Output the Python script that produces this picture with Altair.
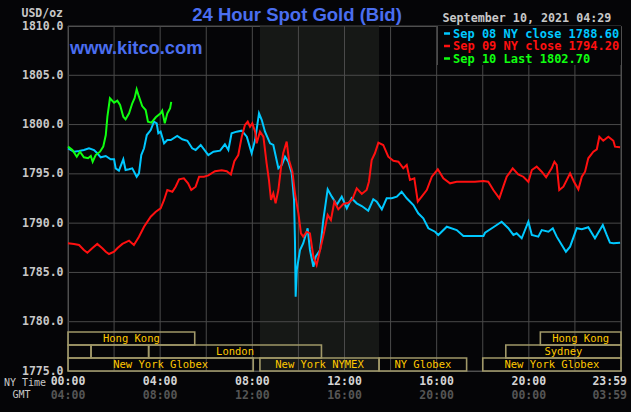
import altair as alt
import pandas as pd

# ---------------- data (hour of NY day, USD/oz) ----------------
sep08 = [(0.00,1797.59),(0.26,1797.25),(0.48,1797.32),(0.69,1797.42),(0.91,1797.59),(1.13,1797.42),
 (1.27,1797.09),(1.42,1796.68),(1.64,1796.81),(1.85,1796.48),(2.00,1796.48),(2.07,1795.56),(2.21,1795.32),
 (2.40,1796.48),(2.50,1795.39),(2.65,1795.46),(2.79,1795.56),(2.98,1794.71),(3.08,1795.06),(3.18,1796.91),
 (3.30,1797.59),(3.42,1798.94),(3.59,1799.45),(3.73,1800.29),(3.85,1800.13),(3.92,1799.11),(4.02,1799.28),
 (4.17,1798.10),(4.31,1798.43),(4.46,1798.43),(4.74,1798.84),(4.96,1798.51),(5.18,1798.36),(5.39,1797.59),
 (5.54,1797.42),(5.76,1797.93),(6.09,1796.91),(6.31,1797.25),(6.60,1797.35),(6.81,1798.00),(6.96,1797.42),
 (7.10,1799.11),(7.32,1799.28),(7.54,1799.38),(7.76,1798.77),(7.97,1797.09),(8.12,1798.43),(8.29,1801.14),
 (8.41,1800.46),(8.55,1799.28),(8.77,1798.10),(8.91,1797.93),(9.13,1795.56),(9.28,1795.90),(9.42,1796.74),
 (9.56,1796.23),(9.71,1795.06),(9.81,1792.35),(9.85,1788.29),(9.88,1782.54),(9.93,1785.25),(10.07,1787.28),
 (10.21,1787.96),(10.40,1789.48),(10.50,1787.28),(10.65,1785.58),(10.75,1786.60),(10.94,1787.28),
 (11.08,1790.32),(11.27,1793.44),(11.45,1792.69),(11.59,1792.18),(11.66,1791.84),(11.88,1792.69),
 (12.10,1791.51),(12.31,1792.52),(12.53,1792.01),(12.75,1791.74),(13.03,1791.26),(13.25,1792.42),
 (13.40,1792.18),(13.62,1791.40),(13.83,1792.52),(14.05,1792.52),(14.27,1792.69),(14.48,1793.19),
 (14.70,1792.52),(14.99,1791.84),(15.20,1791.00),(15.42,1790.49),(15.64,1789.48),(15.93,1789.13),
 (16.07,1788.80),(16.44,1789.64),(16.87,1789.30),(17.16,1788.70),(17.66,1788.70),(18.03,1788.70),
 (18.10,1789.03),(18.46,1789.58),(18.82,1790.15),(19.11,1789.48),(19.33,1788.80),(19.47,1788.97),
 (19.69,1788.46),(19.98,1790.15),(20.13,1788.80),(20.41,1788.63),(20.56,1789.30),(20.85,1789.13),
 (21.04,1789.48),(21.21,1788.63),(21.43,1787.78),(21.61,1787.10),(21.79,1787.61),(22.08,1789.48),
 (22.30,1789.38),(22.58,1789.58),(22.87,1788.46),(23.21,1789.81),(23.38,1788.80),(23.52,1788.02),
 (23.67,1787.96),(23.96,1788.02)]

sep09 = [(0.00,1787.96),(0.26,1787.89),(0.48,1787.78),(0.69,1787.28),(0.84,1787.00),(1.05,1787.45),
 (1.27,1787.89),(1.49,1787.45),(1.64,1787.10),(1.78,1786.87),(2.00,1787.10),(2.14,1787.45),(2.36,1787.89),
 (2.65,1788.22),(2.86,1787.78),(3.08,1788.62),(3.30,1789.64),(3.59,1790.65),(3.81,1791.16),(4.02,1791.50),
 (4.17,1792.35),(4.31,1793.36),(4.53,1793.19),(4.67,1793.70),(4.82,1794.45),(5.03,1794.55),(5.21,1794.04),
 (5.35,1793.36),(5.54,1793.70),(5.69,1794.71),(5.90,1794.71),(6.09,1794.84),(6.38,1795.27),(6.67,1795.37),
 (6.89,1795.27),(7.07,1794.94),(7.22,1796.29),(7.39,1796.91),(7.54,1798.77),(7.68,1799.96),(7.80,1800.29),
 (7.90,1799.78),(8.00,1800.13),(8.12,1799.28),(8.19,1798.10),(8.33,1799.28),(8.48,1798.77),(8.62,1796.07),
 (8.72,1794.38),(8.81,1792.35),(8.91,1793.03),(9.01,1792.01),(9.13,1793.36),(9.24,1795.56),(9.34,1797.09),
 (9.49,1798.27),(9.59,1796.41),(9.74,1795.23),(9.85,1793.03),(10.00,1791.00),(10.11,1788.97),
 (10.21,1788.63),(10.36,1789.13),(10.50,1788.97),(10.65,1786.60),(10.79,1785.75),(10.94,1787.28),
 (11.12,1789.13),(11.27,1790.83),(11.41,1790.32),(11.56,1792.18),(11.73,1791.40),(11.95,1791.94),
 (12.17,1792.07),(12.34,1792.42),(12.53,1793.53),(12.75,1792.96),(12.96,1793.36),(13.06,1794.20),
 (13.18,1796.40),(13.32,1797.09),(13.47,1798.16),(13.68,1797.93),(13.90,1796.74),(14.12,1796.33),
 (14.34,1796.23),(14.55,1795.56),(14.70,1795.90),(14.84,1794.38),(15.03,1794.55),(15.18,1792.18),
 (15.35,1792.69),(15.57,1793.36),(15.79,1794.71),(16.05,1795.46),(16.29,1794.55),(16.58,1794.04),
 (16.87,1794.20),(17.66,1794.20),(18.03,1794.27),(18.24,1794.20),(18.46,1793.36),(18.72,1792.52),
 (18.89,1793.70),(19.04,1794.71),(19.30,1795.56),(19.54,1794.95),(19.76,1794.71),(19.98,1794.20),
 (20.13,1795.39),(20.34,1795.73),(20.56,1795.22),(20.75,1794.65),(20.99,1795.56),(21.11,1796.23),
 (21.21,1795.90),(21.32,1793.36),(21.50,1793.70),(21.79,1795.06),(21.96,1794.20),(22.15,1793.43),
 (22.30,1794.71),(22.44,1795.22),(22.58,1796.58),(22.80,1797.25),(22.95,1797.49),(23.06,1798.77),
 (23.23,1798.36),(23.45,1798.77),(23.67,1798.36),(23.74,1797.76),(23.96,1797.69)]

sep10 = [(0.00,1797.76),(0.19,1797.42),(0.38,1796.74),(0.52,1797.25),(0.69,1796.68),(0.87,1796.58),
 (0.99,1796.81),(1.07,1796.23),(1.20,1796.91),(1.39,1797.25),(1.53,1797.76),(1.64,1798.94),(1.71,1800.80),
 (1.82,1802.67),(2.00,1802.22),(2.14,1802.42),(2.26,1801.99),(2.40,1800.80),(2.50,1800.53),(2.65,1801.14),
 (2.79,1802.16),(2.89,1802.67),(2.98,1803.58),(3.08,1802.83),(3.22,1801.88),(3.37,1801.48),(3.47,1800.29),
 (3.62,1800.19),(3.81,1800.74),(4.02,1801.14),(4.09,1801.41),(4.20,1800.13),(4.31,1801.14),(4.43,1801.65),
 (4.48,1802.30)]

series_names = ["Sep 08", "Sep 09", "Sep 10"]
series_colors = ["#00c8ff", "#ff1010", "#10ff10"]
legend_texts = ["Sep 08 NY close 1788.60", "Sep 09 NY close 1794.20", "Sep 10 Last 1802.70"]

y_ticks = [1775, 1780, 1785, 1790, 1795, 1800, 1805, 1810]
x_grid = [0, 2, 4, 6, 8, 10, 12, 14, 16, 18, 20, 22, 24]
x_label_hours = [0, 4, 8, 12, 16, 20, 24]
ny_labels = ["00:00", "04:00", "08:00", "12:00", "16:00", "20:00", "23:59"]
gmt_labels = ["04:00", "08:00", "12:00", "16:00", "20:00", "00:00", "03:59"]

nymex_open, nymex_close = 8.33, 13.5

sess_start = [0, 20.5, 0, 1.0, 3.5, 19.0, 0, 8.33, 13.5, 18.0]
sess_end = [5.5, 24, 1.0, 3.5, 11.0, 24, 8.04, 13.5, 17.3, 24]
sess_row = [1, 1, 2, 2, 2, 2, 3, 3, 3, 3]
sess_label = ["Hong Kong", "Hong Kong", "", "", "London", "Sydney",
              "New York Globex", "New York NYMEX", "NY Globex", "New York Globex"]

# ---------------- chart ----------------
W, H = 553, 345
MONO = "DejaVu Sans Mono"
GRID = "#4a4a4a"

xs = alt.Scale(domain=[0, 24], nice=False, zero=False)
ys = alt.Scale(domain=[1775, 1810], nice=False, zero=False)

def series_df(pts, name):
    return pd.DataFrame({"h": [p[0] for p in pts], "p": [p[1] for p in pts], "s": name})

def label(txt, x, y, color, size, font=MONO, weight="bold", align="left", baseline="middle"):
    return alt.Chart(pd.DataFrame({"t": [txt]})).mark_text(
        font=font, fontSize=size, fontWeight=weight, color=color, align=align, baseline=baseline
    ).encode(x=alt.value(x), y=alt.value(y), text="t:N")

layers = []

# NYMEX shading
layers.append(alt.Chart(pd.DataFrame({"a": [nymex_open], "b": [nymex_close]})).mark_rect(color="#161816").encode(
    x=alt.X("a:Q", scale=xs, axis=None), x2="b:Q", y=alt.value(0), y2=alt.value(H)))

# grid
layers.append(alt.Chart(pd.DataFrame({"h": x_grid})).mark_rule(color=GRID, strokeWidth=1).encode(
    x=alt.X("h:Q", scale=xs, axis=None)))
layers.append(alt.Chart(pd.DataFrame({"p": y_ticks})).mark_rule(color=GRID, strokeWidth=1).encode(
    y=alt.Y("p:Q", scale=ys,
            axis=alt.Axis(values=y_ticks, format=".1f", title=None, grid=False, ticks=False, domain=False,
                          labelFont=MONO, labelFontWeight="bold", labelFontSize=11.5, labelColor="#c8c8c8",
                          labelPadding=5))))

# sessions
sess = pd.DataFrame({"a": sess_start, "b": sess_end, "r": sess_row, "t": sess_label})
row_px = {1: (306, 319), 2: (319, 332), 3: (332, 345)}
for r, (y0, y1) in row_px.items():
    base = alt.Chart(sess).transform_filter(alt.datum.r == r)
    layers.append(base.mark_rect(fill=None, stroke="#a09868", strokeWidth=1.6).encode(
        x=alt.X("a:Q", scale=xs, axis=None), x2="b:Q", y=alt.value(y0), y2=alt.value(y1)))
    layers.append(base.transform_calculate(m="(datum.a + datum.b) / 2").mark_text(
        font=MONO, fontSize=10.5, color="#ffc800", baseline="middle", align="center", dy=0.5).encode(
        x=alt.X("m:Q", scale=xs, axis=None), y=alt.value((y0 + y1) / 2), text="t:N"))

# price lines
for pts, name, col in zip([sep08, sep09, sep10], series_names, series_colors):
    layers.append(alt.Chart(series_df(pts, name)).mark_line(color=col, strokeWidth=2).encode(
        x=alt.X("h:Q", scale=xs, axis=None), y=alt.Y("p:Q", scale=ys)))

# legend box
layers.append(alt.Chart(pd.DataFrame({"k": [0]})).mark_rect(color="#050507").encode(
    x=alt.value(369), x2=alt.value(W), y=alt.value(0), y2=alt.value(39)))
layers.append(alt.Chart(pd.DataFrame({"k": [0]})).mark_rule(color=GRID, strokeWidth=1).encode(
    x=alt.value(369.5), y=alt.value(0), y2=alt.value(39)))
for i, (txt, col) in enumerate(zip(legend_texts, series_colors)):
    yy = 7.5 + i * 12.5
    layers.append(alt.Chart(pd.DataFrame({"k": [0]})).mark_rule(color=col, strokeWidth=2.5).encode(
        x=alt.value(376), x2=alt.value(382), y=alt.value(yy)))
    layers.append(label(txt, 385, yy, col, 12))

# x labels
xl = pd.DataFrame({"h": x_label_hours, "ny": ny_labels, "gmt": gmt_labels, "i": list(range(len(ny_labels)))})
last = len(ny_labels) - 1
for flt, al, dx in [(alt.datum.i < last, "center", 0), (alt.datum.i == last, "right", 6)]:
    b = alt.Chart(xl).transform_filter(flt)
    layers.append(b.mark_text(font=MONO, fontSize=11.5, fontWeight="bold", color="#d4d4d4",
                              align=al, dx=dx, baseline="middle").encode(
        x=alt.X("h:Q", scale=xs, axis=None), y=alt.value(356), text="ny:N"))
    layers.append(b.mark_text(font=MONO, fontSize=11.5, fontWeight="bold", color="#555555",
                              align=al, dx=dx, baseline="middle").encode(
        x=alt.X("h:Q", scale=xs, axis=None), y=alt.value(370), text="gmt:N"))

layers.append(label("NY Time", -64, 356.5, "#c8c8c8", 10, weight="normal"))
layers.append(label("GMT", -55.5, 369, "#c8c8c8", 10, weight="normal"))
layers.append(label("USD/oz", -5, -12.5, "#c8c8c8", 11.5, align="right"))
layers.append(label("September 10, 2021 04:29", 374.5, -8, "#c8c8c8", 11.7))
layers.append(label("24 Hour Spot Gold (Bid)", 229, -5, "#4a6ef0", 18.5, font="Liberation Sans",
                    align="center", baseline="alphabetic"))
layers.append(label("www.kitco.com", 2, 28, "#4a6ef0", 18.3, font="Liberation Sans", baseline="alphabetic"))

chart = alt.layer(*layers).properties(
    width=W, height=H,
    autosize=alt.AutoSizeParams(type="none"),
    padding={"left": 68, "top": 26, "right": 10, "bottom": 41},
    background="#050507",
).configure_view(stroke="#555555", strokeWidth=1)

chart.save("out.html", embed_options={"renderer": "svg", "actions": False})
